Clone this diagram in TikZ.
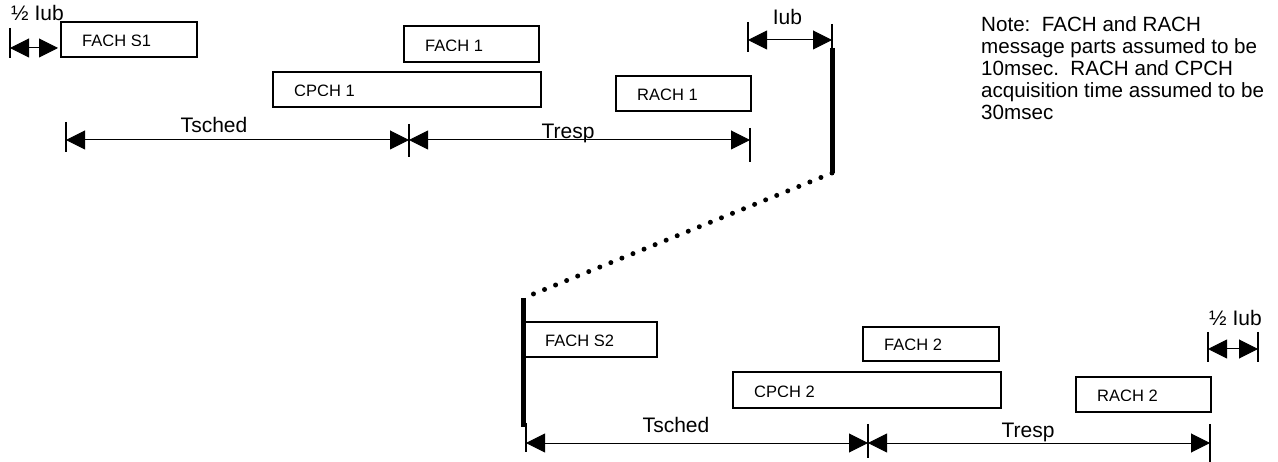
\documentclass[tikz,border=0pt]{standalone}
\usepackage{fontspec}
\setmainfont{Liberation Sans}
\usetikzlibrary{arrows.meta,fit}
\tikzset{
  chbox/.style={draw, line width=1.3pt, inner sep=0pt},
  boxtext/.style={font=\fontsize{16.5}{19}\selectfont, inner sep=0pt, anchor=base west},
  lbl/.style={font=\fontsize{21}{23}\selectfont, inner sep=0pt, anchor=base},
  lblw/.style={font=\fontsize{21}{23}\selectfont, inner sep=0pt, anchor=base west},
  notetext/.style={font=\fontsize{20.6}{22}\selectfont, inner sep=0pt, anchor=base west},
  tick/.style={line width=1.3pt},
  dimarrow/.style={line width=1pt, {Triangle[length=19pt,width=19pt]}-{Triangle[length=19pt,width=19pt]}},
  thickbar/.style={line width=5pt},
  dotline/.style={line width=5pt, line cap=round, dash pattern=on 0pt off 11.93pt},
}
\newcommand\chanbox[6]{%
  \node[chbox, fit={(#2,#3) (#4,#5)}] (#1) {};
  \begin{scope}
    \clip (#2,#3) rectangle (#4,#5-11.8);
    \node[boxtext] (#1-t) at (#2+21,#5-10) {#6};
  \end{scope}}
\begin{document}
\begin{tikzpicture}[x=1pt,y=-1pt]
\useasboundingbox (0,0) rectangle (1278,462);

% ---------- top channel boxes
\chanbox{fachs1}{61}{22}{197}{57}{FACH S1}
\chanbox{fach1}{404}{26}{539}{62}{FACH 1}
\chanbox{cpch1}{273}{72}{541}{107}{CPCH 1}
\chanbox{rach1}{616}{76}{751}{111}{RACH 1}

% ---------- bottom channel boxes
\chanbox{fachs2}{524}{322}{657}{357}{FACH S2}
\chanbox{fach2}{863}{327}{999}{361}{FACH 2}
\chanbox{cpch2}{733}{372}{1001}{408}{CPCH 2}
\chanbox{rach2}{1076}{377}{1211}{412}{RACH 2}

% ---------- top half Iub
\coordinate (hA1) at (10,28); \coordinate (hA2) at (10,58);
\coordinate (hB1) at (61,22); \coordinate (hB2) at (61,57);
\draw[tick] (hA1) -- (hA2);
\draw[line width=2.5pt] (hB1) -- (hB2);
\coordinate (hL) at (10,48); \coordinate (hR) at (58,48);
\draw[dimarrow] (hL) -- (hR);
\node[lblw] (halfiub1) at (11,21) {½ Iub};

% ---------- top Tsched / Tresp
\coordinate (s1a) at (66,122); \coordinate (s1b) at (66,152);
\coordinate (m1a) at (409,124); \coordinate (m1b) at (409,157);
\coordinate (r1a) at (750,128); \coordinate (r1b) at (750,162);
\draw[tick] (s1a) -- (s1b);
\draw[tick] (m1a) -- (m1b);
\draw[tick] (r1a) -- (r1b);
\coordinate (s1) at (66,140); \coordinate (m1) at (409,140); \coordinate (r1) at (750,140);
\draw[dimarrow] (s1) -- (m1);
\draw[dimarrow] (m1) -- (r1);
\node[lbl] (tsched1) at (214,133) {Tsched};
\node[lbl] (tresp1) at (568,139) {Tresp};

% ---------- Iub
\coordinate (iA1) at (748,22); \coordinate (iA2) at (748,52);
\coordinate (iB1) at (832,24); \coordinate (iB2) at (832,48);
\draw[tick] (iA1) -- (iA2);
\draw[tick] (iB1) -- (iB2);
\coordinate (iL) at (748,40); \coordinate (iR) at (832,40);
\draw[dimarrow] (iL) -- (iR);
\node[lbl] (iub) at (787.5,25) {Iub};

% ---------- thick bars and dotted link
\coordinate (tb1) at (832,48); \coordinate (tb2) at (832,173);
\coordinate (bb1) at (523.5,298); \coordinate (bb2) at (523.5,427);
\draw[thickbar] (tb1) -- (tb2);
\draw[thickbar] (bb1) -- (bb2);
\draw[dotline] (tb2) -- (bb1);

% ---------- bottom Tsched / Tresp
\coordinate (s2a) at (526,423); \coordinate (s2b) at (526,452);
\coordinate (m2a) at (868,424); \coordinate (m2b) at (868,458);
\coordinate (r2a) at (1210,424); \coordinate (r2b) at (1210,462);
\draw[tick] (s2a) -- (s2b);
\draw[tick] (m2a) -- (m2b);
\draw[tick] (r2a) -- (r2b);
\coordinate (s2) at (526,443); \coordinate (m2) at (868,443); \coordinate (r2) at (1210,443);
\draw[dimarrow] (s2) -- (m2);
\draw[dimarrow] (m2) -- (r2);
\node[lbl] (tsched2) at (676,432) {Tsched};
\node[lbl] (tresp2) at (1028,437) {Tresp};

% ---------- bottom half Iub
\coordinate (gA1) at (1208,332); \coordinate (gA2) at (1208,362);
\coordinate (gB1) at (1258,332); \coordinate (gB2) at (1258,362);
\draw[tick] (gA1) -- (gA2);
\draw[tick] (gB1) -- (gB2);
\coordinate (gL) at (1208,349); \coordinate (gR) at (1258,349);
\draw[dimarrow] (gL) -- (gR);
\node[lblw] (halfiub2) at (1209,326) {½ Iub};

% ---------- note
\node[notetext] (note1) at (981,31.5) {Note:\ \ FACH and RACH};
\node[notetext] (note2) at (981,53.5) {message parts assumed to be};
\node[notetext] (note3) at (981,75.5) {10msec.\ \ RACH and CPCH};
\node[notetext] (note4) at (981,97.5) {acquisition time assumed to be};
\node[notetext] (note5) at (981,119.5) {30msec};
\end{tikzpicture}
\end{document}
